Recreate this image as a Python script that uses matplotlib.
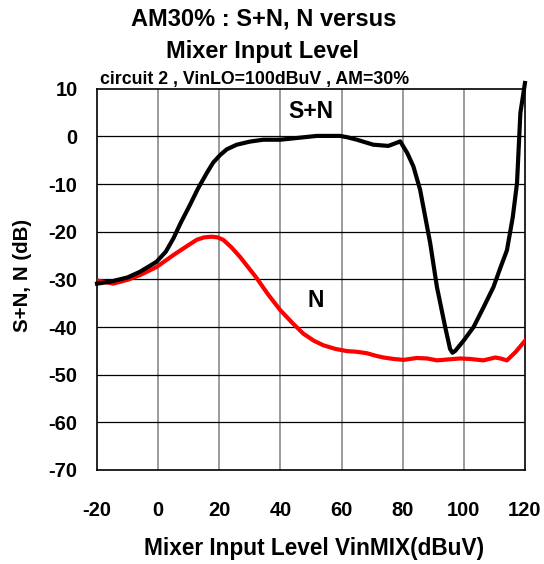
import matplotlib
matplotlib.use("Agg")
import matplotlib.pyplot as plt

plt.rcParams['font.family'] = ['Liberation Sans', 'DejaVu Sans']
plt.rcParams['font.weight'] = 'bold'
plt.rcParams['axes.unicode_minus'] = False

# S+N curve (black)
sn_x = [-20, -15.7, -10, -5.9, -0.5, 2.5, 5, 7.5, 10.4, 13, 15.9, 18, 20.3, 22.5, 25.7, 30, 34.4,
        40, 46, 51.9, 59.5, 62, 65, 70.4, 75.3, 77, 79.2, 81.5, 83.5, 85.7, 89, 91.2,
        93.9, 95.5, 96.3, 97.2, 100, 103.2, 106.5, 109.7, 112, 114.1, 116, 117.4, 118.5, 120]
sn_y = [-30.9, -30.5, -29.6, -28.4, -26.3, -24.2, -21.4, -18.0, -14.4, -11.0, -7.7, -5.5, -3.9, -2.7, -1.75, -1.1, -0.7,
        -0.7, -0.3, 0.1, 0.1, -0.2, -0.7, -1.75, -2.0, -1.6, -1.05, -3.5, -6.3, -11.2, -22.4, -31.6,
        -40.0, -44.6, -45.4, -45.0, -42.8, -40.0, -35.8, -31.6, -27.5, -23.9, -17.0, -9.8, 4.9, 11.2]

# N curve (red)
n_x = [-20.3, -17, -14.7, -10, -5.9, -0.5, 5, 9, 12.6, 15, 17.5, 19.5, 21.3, 24, 26.8, 29.5, 32.3,
       36, 40, 44, 47.5, 51, 54.1, 58, 61.7, 65, 68.3, 71, 73.7, 77, 80.3, 84.6,
       88, 91.2, 95, 98.8, 102, 106.4, 110.3, 112, 114.1, 117, 120]
n_y = [-30.2, -30.6, -30.9, -30.1, -29.1, -27.4, -24.9, -23.2, -21.7, -21.2, -21.05, -21.2, -21.7, -23.3, -25.3, -27.5, -29.8,
       -33.2, -36.5, -39.2, -41.4, -42.9, -43.85, -44.6, -45.05, -45.2, -45.5, -46.0, -46.4, -46.7, -46.9, -46.5,
       -46.6, -47.0, -46.8, -46.6, -46.7, -47.0, -46.4, -46.6, -47.0, -45.2, -42.9]

x_ticks = [-20, 0, 20, 40, 60, 80, 100, 120]
y_ticks = [-70, -60, -50, -40, -30, -20, -10, 0, 10]

fig = plt.figure(figsize=(5.44, 5.64), dpi=100)
ax = fig.add_axes([0.1783, 0.1667, 0.7867, 0.676])

for x in x_ticks[1:-1]:
    ax.axvline(x, color='#808080', lw=1.1, zorder=1)
for y in y_ticks[1:-1]:
    ax.axhline(y, color='black', lw=0.9, zorder=1)

ax.plot(n_x, n_y, color='#ff0000', lw=3.0, zorder=3, solid_joinstyle='round')
ax.plot(sn_x, sn_y, color='black', lw=3.0, zorder=4, clip_on=False, solid_joinstyle='round')

ax.set_xlim(-20, 120)
ax.set_ylim(-70, 10)
ax.set_xticks(x_ticks)
ax.set_yticks(y_ticks)
ax.tick_params(length=0, labelsize=14.5)
ax.tick_params(axis='x', pad=22)
ax.tick_params(axis='y', pad=14)
for s in ax.spines.values():
    s.set_linewidth(1.2)

ax.text(49.9, 5.3, 'S+N', fontsize=16.5, fontweight='bold', ha='center', va='center')
ax.text(51.6, -34.4, 'N', fontsize=16.5, fontweight='bold', ha='center', va='center')

ax.set_xlabel('Mixer Input Level VinMIX(dBuV)', fontsize=16.3, fontweight='bold', va='center')
ax.xaxis.set_label_coords(0.507, -0.207)
ax.set_ylabel('S+N, N (dB)', fontsize=14.8, fontweight='bold', va='center')
ax.yaxis.set_label_coords(-0.173, 0.51)

fig.text(0.484, 0.955, 'AM30% : S+N, N versus', fontsize=17, fontweight='bold', ha='center', va='baseline')
fig.text(0.483, 0.898, 'Mixer Input Level', fontsize=17, fontweight='bold', ha='center', va='baseline')
fig.text(0.468, 0.851, 'circuit 2 , VinLO=100dBuV , AM=30%', fontsize=12.8, fontweight='bold', ha='center', va='baseline')

fig.savefig('out.png', dpi=100)
